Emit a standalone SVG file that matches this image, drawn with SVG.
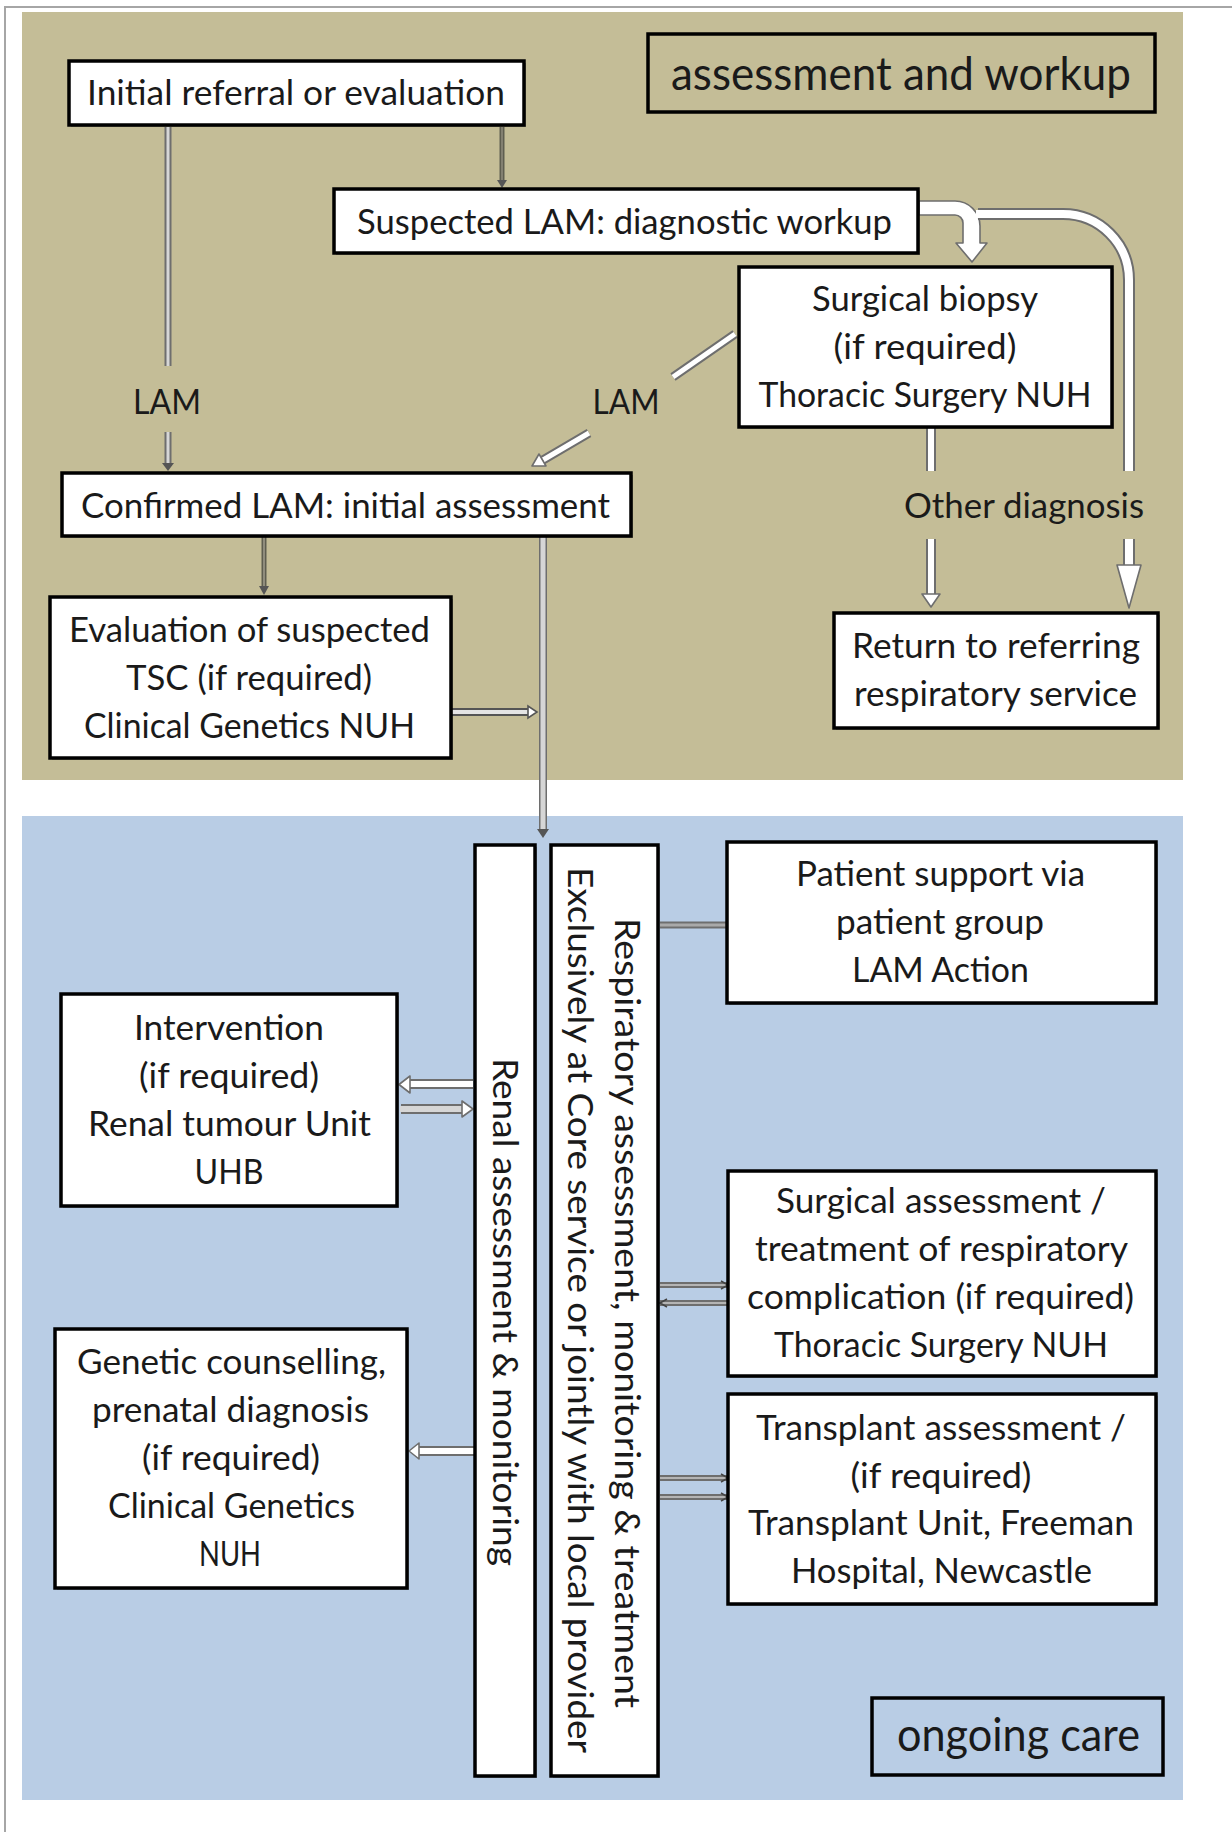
<svg xmlns="http://www.w3.org/2000/svg" width="1232" height="1832" viewBox="0 0 1232 1832">
<style>
.box{fill:#fff;stroke:#000;stroke-width:3.5}
.lbl{fill:none;stroke:#000;stroke-width:3.5}
.sh{fill:#000;fill-opacity:0.28}
.t{font-family:Lato,"Liberation Sans",sans-serif;font-size:35px;fill:#1a1a1a;text-anchor:middle}
.big{font-size:46px}
.o{fill:none;stroke:#6e6e6e}
.iw{fill:none;stroke:#fff}
.il{fill:none;stroke:#d6d6d6}
.hd{fill:#fff;stroke:#6e6e6e;stroke-width:1.6;stroke-linejoin:round}
.hk{fill:#555}
</style>
<rect width="1232" height="1832" fill="#fff"/>
<path d="M5 1832 V7 H1232" fill="none" stroke="#a6a6a6" stroke-width="2"/>
<rect x="22" y="12" width="1161" height="768" fill="#c4bd97"/>
<rect x="22" y="816" width="1161" height="984" fill="#b9cde5"/>

<g id="connectors">
  <!-- Initial -> Confirmed (LAM) -->
  <path class="o" stroke-width="7" d="M168 127 V366 M168 432 V466"/>
  <path class="il" stroke-width="3" d="M168 127 V366 M168 432 V466"/>
  <polygon class="hk" points="162,463 174,463 168,471"/>
  <!-- Initial -> Suspected -->
  <path d="M502 127 V182" stroke="#5f5e50" stroke-width="5" fill="none"/>
  <path d="M502 127 V182" stroke="#8f8d7c" stroke-width="1.5" fill="none"/>
  <polygon class="hk" points="497,180 507,180 502,188"/>
  <!-- Suspected -> Surgical biopsy (block arrow) -->
  <path class="hd" d="M919 201 H955 A25 25 0 0 1 980 226 V243 H987 L972 262 L956 243 H963 V223 A8 8 0 0 0 955 215 H919 Z"/>
  <!-- Suspected -> Return (curved) -->
  <path class="o" stroke-width="12" d="M978 214 H1063 A66 66 0 0 1 1129 280 V471 M1129 539 V567"/>
  <path class="iw" stroke-width="8" d="M976 214 H1063 A66 66 0 0 1 1129 280 V471 M1129 539 V568"/>
  <polygon class="hd" points="1117,565 1141,565 1129,608"/>
  <!-- Biopsy -> Return (Other diagnosis) -->
  <path class="o" stroke-width="10" d="M931 428 V471 M931 539 V595"/>
  <path class="iw" stroke-width="6" d="M931 428 V471 M931 539 V596"/>
  <polygon class="hd" points="922,594 940,594 931,607"/>
  <!-- Biopsy -> Confirmed (LAM) -->
  <path class="o" stroke-width="9" d="M735 334 L673 377 M589 433 L543 460"/>
  <path class="iw" stroke-width="5" d="M735 334 L673 377 M589 433 L543 460"/>
  <polygon class="hd" points="532,466 546,466 539,454"/>
  <!-- Confirmed -> TSC -->
  <path d="M264 537 V588" stroke="#5f5e50" stroke-width="5" fill="none"/>
  <path d="M264 537 V588" stroke="#a09e8c" stroke-width="1.5" fill="none"/>
  <polygon class="hk" points="259,586 269,586 264,595"/>
  <!-- Confirmed -> ongoing care -->
  <path class="o" stroke-width="8" d="M543 537 V830"/>
  <path class="il" stroke-width="5" d="M543 537 V830"/>
  <polygon class="hk" points="537,829 549,829 543,838"/>
  <!-- TSC -> vertical -->
  <path d="M451 712 H529" stroke="#555" stroke-width="8" fill="none"/>
  <path d="M451 712 H530" stroke="#e4e4e4" stroke-width="4" fill="none"/>
  <polygon points="528,706 528,718 537,712" fill="#fff" stroke="#555" stroke-width="1.6"/>
  <!-- Respiratory -> Patient support -->
  <path d="M660 925 H727" stroke="#6e6e6e" stroke-width="7" fill="none"/>
  <path d="M660 925 H727" stroke="#a9a9a9" stroke-width="3" fill="none"/>
  <!-- Renal <-> Intervention -->
  <path class="o" stroke-width="10" d="M473 1084 H409 M401 1109 H463"/>
  <path class="iw" stroke-width="6" d="M473 1084 H408"/>
  <path class="il" stroke-width="6" d="M400 1109 H464"/>
  <polygon class="hd" points="410,1076 410,1093 399,1084.5"/>
  <polygon class="hd" points="462,1101 462,1117 473,1109"/>
  <!-- Renal -> Genetic -->
  <path class="o" stroke-width="10" d="M475 1451 H419"/>
  <path class="iw" stroke-width="6" d="M475 1451 H418"/>
  <polygon class="hd" points="419,1443 419,1459 409,1451"/>
  <!-- Respiratory <-> Surgical assessment -->
  <path d="M660 1285 H728 M660 1303 H728 M660 1478 H728 M660 1497 H728" stroke="#6e6e6e" stroke-width="6" fill="none"/>
  <path d="M660 1285 H728 M660 1303 H728 M660 1478 H728 M660 1497 H728" stroke="#b4b4b4" stroke-width="2" fill="none"/>
  <path d="M721 1281 L728 1285 L721 1289 M667 1299 L660 1303 L667 1307 M721 1474 L728 1478 L721 1482 M721 1493 L728 1497 L721 1501" fill="none" stroke="#444" stroke-width="1.5"/>
</g>

<g id="n-initial"><rect class="sh" x="71" y="63" width="455" height="64"/><rect class="box" x="69" y="61" width="455" height="64"/><text class="t" x="296" y="105" textLength="418" lengthAdjust="spacingAndGlyphs">Initial referral or evaluation</text></g>
<g id="n-phase1"><rect class="lbl" x="648" y="34" width="507" height="78"/><text class="t big" x="901" y="90" textLength="460" lengthAdjust="spacingAndGlyphs">assessment and workup</text></g>
<g id="n-suspected"><rect class="sh" x="336" y="191" width="584" height="64"/><rect class="box" x="334" y="189" width="584" height="64"/><text class="t" x="624.5" y="234" textLength="535" lengthAdjust="spacingAndGlyphs">Suspected LAM: diagnostic workup</text></g>
<g id="n-biopsy"><rect class="sh" x="741" y="269" width="373" height="160"/><rect class="box" x="739" y="267" width="373" height="160"/>
<text class="t" x="925" y="311" textLength="226" lengthAdjust="spacingAndGlyphs">Surgical biopsy</text>
<text class="t" x="925" y="359" textLength="183" lengthAdjust="spacingAndGlyphs">(if required)</text>
<text class="t" x="925" y="407" textLength="333" lengthAdjust="spacingAndGlyphs">Thoracic Surgery NUH</text></g>
<g id="l-lam1"><text class="t" x="167" y="414" textLength="68" lengthAdjust="spacingAndGlyphs">LAM</text></g>
<g id="l-lam2"><text class="t" x="626" y="414" textLength="67" lengthAdjust="spacingAndGlyphs">LAM</text></g>
<g id="l-other"><text class="t" x="1024" y="518" textLength="240" lengthAdjust="spacingAndGlyphs">Other diagnosis</text></g>
<g id="n-confirmed"><rect class="sh" x="64" y="475" width="569" height="63"/><rect class="box" x="62" y="473" width="569" height="63"/><text class="t" x="345.5" y="518" textLength="529" lengthAdjust="spacingAndGlyphs">Confirmed LAM: initial assessment</text></g>
<g id="n-tsc"><rect class="sh" x="52" y="599" width="401" height="161"/><rect class="box" x="50" y="597" width="401" height="161"/>
<text class="t" x="249.5" y="642" textLength="361" lengthAdjust="spacingAndGlyphs">Evaluation of suspected</text>
<text class="t" x="249" y="690" textLength="246" lengthAdjust="spacingAndGlyphs">TSC (if required)</text>
<text class="t" x="249.5" y="738" textLength="331" lengthAdjust="spacingAndGlyphs">Clinical Genetics NUH</text></g>
<g id="n-return"><rect class="sh" x="836" y="615" width="324" height="115"/><rect class="box" x="834" y="613" width="324" height="115"/>
<text class="t" x="996" y="658" textLength="288" lengthAdjust="spacingAndGlyphs">Return to referring</text>
<text class="t" x="995.5" y="706" textLength="283" lengthAdjust="spacingAndGlyphs">respiratory service</text></g>

<g id="n-renal"><rect class="sh" x="477" y="847" width="60" height="931"/><rect class="box" x="475" y="845" width="60" height="931"/>
<text class="t" transform="translate(493 1312) rotate(90)" textLength="508" lengthAdjust="spacingAndGlyphs">Renal assessment &amp; monitoring</text></g>
<g id="n-resp"><rect class="sh" x="553" y="847" width="107" height="931"/><rect class="box" x="551" y="845" width="107" height="931"/>
<text class="t" transform="translate(615 1313) rotate(90)" textLength="790" lengthAdjust="spacingAndGlyphs">Respiratory assessment, monitoring &amp; treatment</text>
<text class="t" transform="translate(568 1310) rotate(90)" textLength="886" lengthAdjust="spacingAndGlyphs">Exclusively at Core service or jointly with local provider</text></g>
<g id="n-patient"><rect class="sh" x="729" y="844" width="429" height="161"/><rect class="box" x="727" y="842" width="429" height="161"/>
<text class="t" x="940.5" y="886" textLength="289" lengthAdjust="spacingAndGlyphs">Patient support via</text>
<text class="t" x="940" y="934" textLength="208" lengthAdjust="spacingAndGlyphs">patient group</text>
<text class="t" x="940.5" y="982" textLength="177" lengthAdjust="spacingAndGlyphs">LAM Action</text></g>
<g id="n-intervention"><rect class="sh" x="63" y="996" width="336" height="212"/><rect class="box" x="61" y="994" width="336" height="212"/>
<text class="t" x="229" y="1040" textLength="190" lengthAdjust="spacingAndGlyphs">Intervention</text>
<text class="t" x="229" y="1088" textLength="180" lengthAdjust="spacingAndGlyphs">(if required)</text>
<text class="t" x="229.5" y="1136" textLength="283" lengthAdjust="spacingAndGlyphs">Renal tumour Unit</text>
<text class="t" x="229" y="1184" textLength="69" lengthAdjust="spacingAndGlyphs">UHB</text></g>
<g id="n-genetic"><rect class="sh" x="57" y="1331" width="352" height="259"/><rect class="box" x="55" y="1329" width="352" height="259"/>
<text class="t" x="231.5" y="1374" textLength="309" lengthAdjust="spacingAndGlyphs">Genetic counselling,</text>
<text class="t" x="230.5" y="1422" textLength="277" lengthAdjust="spacingAndGlyphs">prenatal diagnosis</text>
<text class="t" x="231" y="1470" textLength="178" lengthAdjust="spacingAndGlyphs">(if required)</text>
<text class="t" x="231.5" y="1518" textLength="247" lengthAdjust="spacingAndGlyphs">Clinical Genetics</text>
<text class="t" x="230" y="1566" textLength="62" lengthAdjust="spacingAndGlyphs">NUH</text></g>
<g id="n-surgical"><rect class="sh" x="730" y="1173" width="428" height="205"/><rect class="box" x="728" y="1171" width="428" height="205"/>
<text class="t" x="941" y="1213" textLength="330" lengthAdjust="spacingAndGlyphs">Surgical assessment /</text>
<text class="t" x="941.5" y="1261" textLength="373" lengthAdjust="spacingAndGlyphs">treatment of respiratory</text>
<text class="t" x="940.5" y="1309" textLength="387" lengthAdjust="spacingAndGlyphs">complication (if required)</text>
<text class="t" x="941" y="1357" textLength="334" lengthAdjust="spacingAndGlyphs">Thoracic Surgery NUH</text></g>
<g id="n-transplant"><rect class="sh" x="730" y="1396" width="428" height="210"/><rect class="box" x="728" y="1394" width="428" height="210"/>
<text class="t" x="941" y="1440" textLength="370" lengthAdjust="spacingAndGlyphs">Transplant assessment /</text>
<text class="t" x="941" y="1488" textLength="181" lengthAdjust="spacingAndGlyphs">(if required)</text>
<text class="t" x="941" y="1535" textLength="386" lengthAdjust="spacingAndGlyphs">Transplant Unit, Freeman</text>
<text class="t" x="941.5" y="1583" textLength="301" lengthAdjust="spacingAndGlyphs">Hospital, Newcastle</text></g>
<g id="n-phase2"><rect class="lbl" x="872" y="1698" width="291" height="77"/><text class="t big" x="1018.5" y="1751" textLength="243" lengthAdjust="spacingAndGlyphs">ongoing care</text></g>
</svg>
